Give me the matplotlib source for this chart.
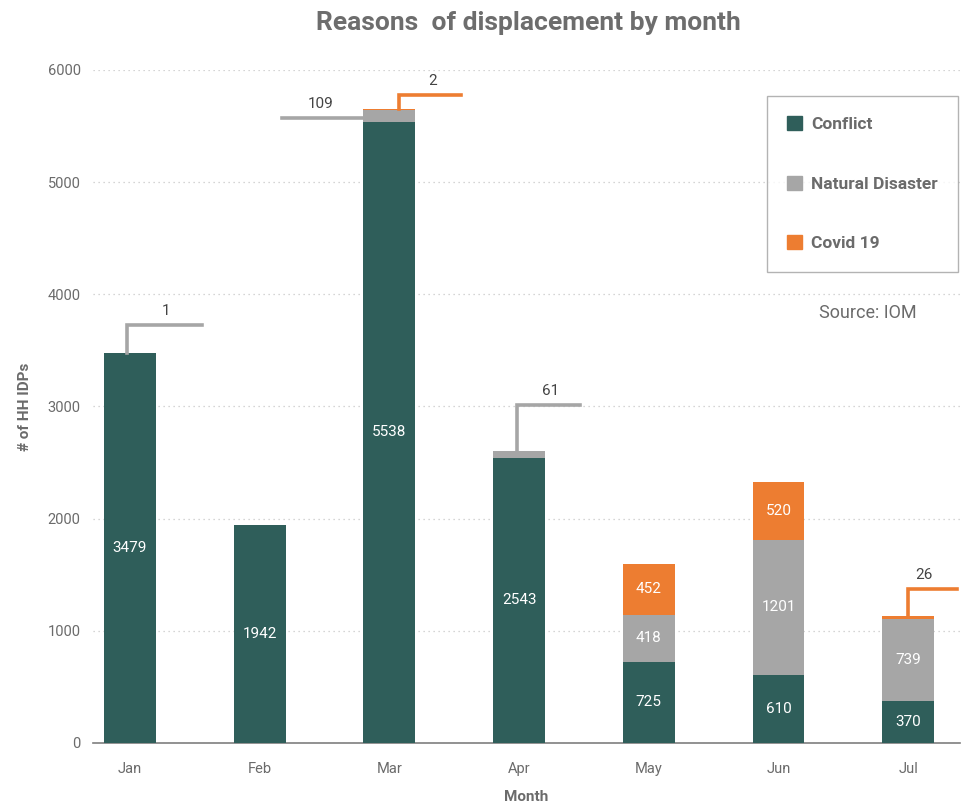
import matplotlib
matplotlib.use("Agg")
import matplotlib.pyplot as plt
from matplotlib.patches import Patch
import numpy as np

months = ["Jan", "Feb", "Mar", "Apr", "May", "Jun", "Jul"]
conflict = [3479, 1942, 5538, 2543, 725, 610, 370]
natural = [1, 0, 109, 61, 418, 1201, 739]
covid = [0, 0, 2, 0, 452, 520, 26]

C_CONF = "#2f5e5a"
C_NAT = "#a6a6a6"
C_COV = "#ed7d31"
TXT = "#6b6b6b"

plt.rcParams['font.family'] = ['Roboto', 'DejaVu Sans']

fig = plt.figure(figsize=(9.62, 8.06), dpi=100)
ax = fig.add_axes([0.0967, 0.0782, 0.9013, 0.8350])

x = np.arange(len(months))
w = 0.4
conf = np.array(conflict)
nat = np.array(natural)
cov = np.array(covid)

ax.bar(x, conf, w, color=C_CONF, zorder=3)
ax.bar(x, nat, w, bottom=conf, color=C_NAT, zorder=3)
ax.bar(x, cov, w, bottom=conf + nat, color=C_COV, zorder=3)

# labels inside bars
for i in range(len(months)):
    ax.text(x[i], conf[i] / 2, str(conf[i]), ha="center", va="center",
            color="white", fontsize=11, zorder=4)
    if nat[i] > 300:
        ax.text(x[i], conf[i] + nat[i] / 2, str(nat[i]), ha="center",
                va="center", color="white", fontsize=11, zorder=4)
    if cov[i] > 300:
        ax.text(x[i], conf[i] + nat[i] + cov[i] / 2, str(cov[i]), ha="center",
                va="center", color="white", fontsize=11, zorder=4)

LW = 2.6
LBL = "#444444"

def elbow(i, seg_top, dx, rise, run, lx, val, color):
    xs = x[i] + dx
    ytop = seg_top + rise
    ax.plot([xs, xs, x[i] + run], [seg_top, ytop, ytop], color=color,
            lw=LW, solid_joinstyle="miter", zorder=5, clip_on=False)
    ax.text(x[i] + lx, ytop + 60, str(val), ha="center", va="bottom",
            color=LBL, fontsize=11, zorder=5)

# Jan natural disaster
elbow(0, conf[0] + nat[0], -0.02, 250, 0.555, 0.28, nat[0], C_NAT)
# Mar natural (horizontal leftwards)
ym = conf[2] + nat[2] * 0.3
ax.plot([x[2] - w / 2, x[2] - 0.825], [ym, ym], color=C_NAT, lw=LW, zorder=5)
ax.text(x[2] - 0.53, ym + 60, str(nat[2]), ha="center", va="bottom",
        color=LBL, fontsize=11, zorder=5)
# Mar covid
elbow(2, conf[2] + nat[2] + cov[2], 0.077, 128, 0.555, 0.33, cov[2], C_COV)
# Apr natural
elbow(3, conf[3] + nat[3], -0.015, 409, 0.47, 0.24, nat[3], C_NAT)
# Jul covid
elbow(6, conf[6] + nat[6] + cov[6], 0.0, 238, 0.38, 0.12, cov[6], C_COV)

ax.set_xlim(-0.285, 6.40)
ax.set_ylim(0, 6000)
ax.set_yticks(np.arange(0, 6001, 1000))
ax.set_xticks(x)
ax.set_xticklabels(months)
ax.tick_params(axis="both", length=0, colors=TXT, labelsize=10.5)
ax.tick_params(axis="x", pad=14)
ax.tick_params(axis="y", pad=9)
ax.yaxis.grid(True, linestyle=(0, (1, 3)), color="#c8c8c8", lw=0.9, zorder=0)
for s in ["top", "right", "left"]:
    ax.spines[s].set_visible(False)
ax.spines["bottom"].set_color("#7f7f7f")
ax.spines["bottom"].set_linewidth(1.2)

ax.set_ylabel("# of HH IDPs", fontsize=11, fontweight="bold", color=TXT, labelpad=11)
ax.set_xlabel("Month", fontsize=11, fontweight="bold", color=TXT, labelpad=10)

fig.text(0.549, 0.972, "Reasons  of displacement by month", ha="center",
         va="center", fontsize=19, fontweight="bold", color="#6d6d6d")

handles = [Patch(color=C_CONF, label="Conflict"),
           Patch(color=C_NAT, label="Natural Disaster"),
           Patch(color=C_COV, label="Covid 19")]
leg = ax.legend(handles=handles, loc="upper right", bbox_to_anchor=(0.998, 0.962),
                frameon=True, fancybox=False, edgecolor="#a0a0a0",
                prop={"weight": "bold", "size": 12.5}, labelspacing=2.5,
                handlelength=0.85, handleheight=0.85, borderpad=1.2,
                handletextpad=0.5, borderaxespad=0)
for t in leg.get_texts():
    t.set_color(TXT)
leg.get_frame().set_linewidth(1.0)

fig.text(0.902, 0.612, "Source: IOM", ha="center", va="center",
         fontsize=13, color=TXT)

fig.savefig("out.png", dpi=100, facecolor="white")
